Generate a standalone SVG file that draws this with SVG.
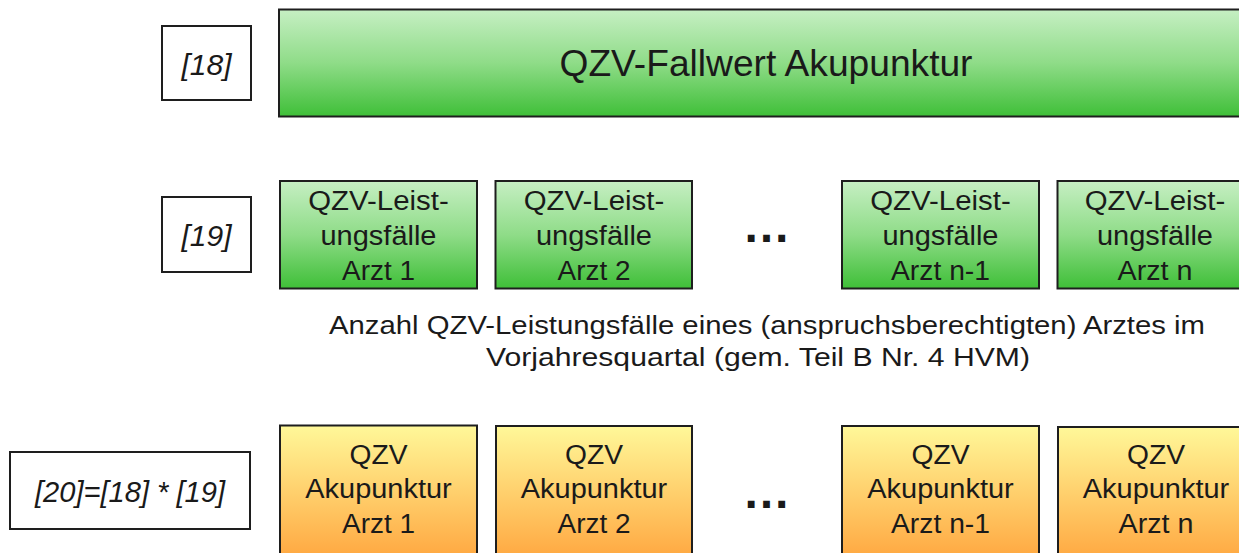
<svg xmlns="http://www.w3.org/2000/svg" width="1239" height="553" viewBox="0 0 1239 553">
<defs>
<linearGradient id="gGreen" x1="0" y1="0" x2="0" y2="1">
<stop offset="0" stop-color="#c6efc3"/>
<stop offset="0.5" stop-color="#8fdc88"/>
<stop offset="1" stop-color="#3fbf38"/>
</linearGradient>
<linearGradient id="gOrange" x1="0" y1="0" x2="0" y2="1">
<stop offset="0" stop-color="#fff899"/>
<stop offset="1" stop-color="#ff9d35"/>
</linearGradient>
<style>
.lbl{fill:#fff;stroke:#1e1e1e;stroke-width:2}
.grn{fill:url(#gGreen);stroke:#1e1e1e;stroke-width:2}
.org{fill:url(#gOrange);stroke:#1e1e1e;stroke-width:2}
text{font-family:"Liberation Sans",Arial,sans-serif;fill:#1a1a1a}
.it{font-style:italic;font-size:30px;text-anchor:middle}
.bx{font-size:27px;text-anchor:middle}
.dots{font-size:48px;font-weight:bold;text-anchor:middle}
</style>
</defs>
<rect width="1239" height="553" fill="#fff"/>

<g id="label18">
<rect class="lbl" x="162" y="26" width="89" height="74"/>
<text class="it" x="206.5" y="75">[18]</text>
</g>
<g id="fallwert">
<rect class="grn" x="279" y="9.5" width="975" height="107"/>
<text x="766" y="76" font-size="36" text-anchor="middle" textLength="413" lengthAdjust="spacingAndGlyphs">QZV-Fallwert Akupunktur</text>
</g>

<g id="label19">
<rect class="lbl" x="162" y="197" width="89" height="75"/>
<text class="it" x="206.5" y="246">[19]</text>
</g>
<g id="lf1">
<rect class="grn" x="280" y="181" width="197" height="107.5"/>
<text class="bx" x="378.5" y="210" textLength="140.5" lengthAdjust="spacingAndGlyphs">QZV-Leist-</text>
<text class="bx" x="378.5" y="245" textLength="116" lengthAdjust="spacingAndGlyphs">ungsfälle</text>
<text class="bx" x="378.5" y="279.5" textLength="73" lengthAdjust="spacingAndGlyphs">Arzt 1</text>
</g>
<g id="lf2">
<rect class="grn" x="495.5" y="181" width="196.5" height="107.5"/>
<text class="bx" x="594" y="210" textLength="140.5" lengthAdjust="spacingAndGlyphs">QZV-Leist-</text>
<text class="bx" x="594" y="245" textLength="116" lengthAdjust="spacingAndGlyphs">ungsfälle</text>
<text class="bx" x="594" y="279.5" textLength="73" lengthAdjust="spacingAndGlyphs">Arzt 2</text>
</g>
<g id="dots1">
<text class="dots" x="766.5" y="242">…</text>
</g>
<g id="lfn1">
<rect class="grn" x="842" y="181" width="197" height="107.5"/>
<text class="bx" x="940.5" y="210" textLength="140.5" lengthAdjust="spacingAndGlyphs">QZV-Leist-</text>
<text class="bx" x="940.5" y="245" textLength="116" lengthAdjust="spacingAndGlyphs">ungsfälle</text>
<text class="bx" x="940.5" y="279.5" textLength="99" lengthAdjust="spacingAndGlyphs">Arzt n-1</text>
</g>
<g id="lfn">
<rect class="grn" x="1057.5" y="181" width="197" height="107.5"/>
<text class="bx" x="1155" y="210" textLength="140.5" lengthAdjust="spacingAndGlyphs">QZV-Leist-</text>
<text class="bx" x="1155" y="245" textLength="116" lengthAdjust="spacingAndGlyphs">ungsfälle</text>
<text class="bx" x="1155" y="279.5" textLength="75" lengthAdjust="spacingAndGlyphs">Arzt n</text>
</g>

<g id="caption">
<text x="329" y="334" font-size="25" textLength="876" lengthAdjust="spacingAndGlyphs">Anzahl QZV-Leistungsfälle eines (anspruchsberechtigten) Arztes im</text>
<text x="486" y="366" font-size="25" textLength="544" lengthAdjust="spacingAndGlyphs">Vorjahresquartal (gem. Teil B Nr. 4 HVM)</text>
</g>

<g id="label20">
<rect class="lbl" x="10" y="452" width="240" height="77"/>
<text class="it" x="130" y="502" font-size="29.5" textLength="190" lengthAdjust="spacingAndGlyphs">[20]=[18] * [19]</text>
</g>
<g id="ak1">
<rect class="org" x="280" y="425.5" width="197" height="150"/>
<text class="bx" x="378.5" y="463.5" textLength="58" lengthAdjust="spacingAndGlyphs">QZV</text>
<text class="bx" x="378.5" y="498" textLength="146.5" lengthAdjust="spacingAndGlyphs">Akupunktur</text>
<text class="bx" x="378.5" y="532.5" textLength="73" lengthAdjust="spacingAndGlyphs">Arzt 1</text>
</g>
<g id="ak2">
<rect class="org" x="496" y="426" width="196" height="150"/>
<text class="bx" x="594" y="463.5" textLength="58" lengthAdjust="spacingAndGlyphs">QZV</text>
<text class="bx" x="594" y="498" textLength="146.5" lengthAdjust="spacingAndGlyphs">Akupunktur</text>
<text class="bx" x="594" y="532.5" textLength="73" lengthAdjust="spacingAndGlyphs">Arzt 2</text>
</g>
<g id="dots2">
<text class="dots" x="766.5" y="508">…</text>
</g>
<g id="akn1">
<rect class="org" x="842" y="426" width="197" height="150"/>
<text class="bx" x="940.5" y="463.5" textLength="58" lengthAdjust="spacingAndGlyphs">QZV</text>
<text class="bx" x="940.5" y="498" textLength="146.5" lengthAdjust="spacingAndGlyphs">Akupunktur</text>
<text class="bx" x="940.5" y="532.5" textLength="99" lengthAdjust="spacingAndGlyphs">Arzt n-1</text>
</g>
<g id="akn">
<rect class="org" x="1058" y="427" width="197" height="150"/>
<text class="bx" x="1156" y="463.5" textLength="58" lengthAdjust="spacingAndGlyphs">QZV</text>
<text class="bx" x="1156" y="498" textLength="146.5" lengthAdjust="spacingAndGlyphs">Akupunktur</text>
<text class="bx" x="1156" y="532.5" textLength="75" lengthAdjust="spacingAndGlyphs">Arzt n</text>
</g>
<g id="connectors"/>
</svg>
